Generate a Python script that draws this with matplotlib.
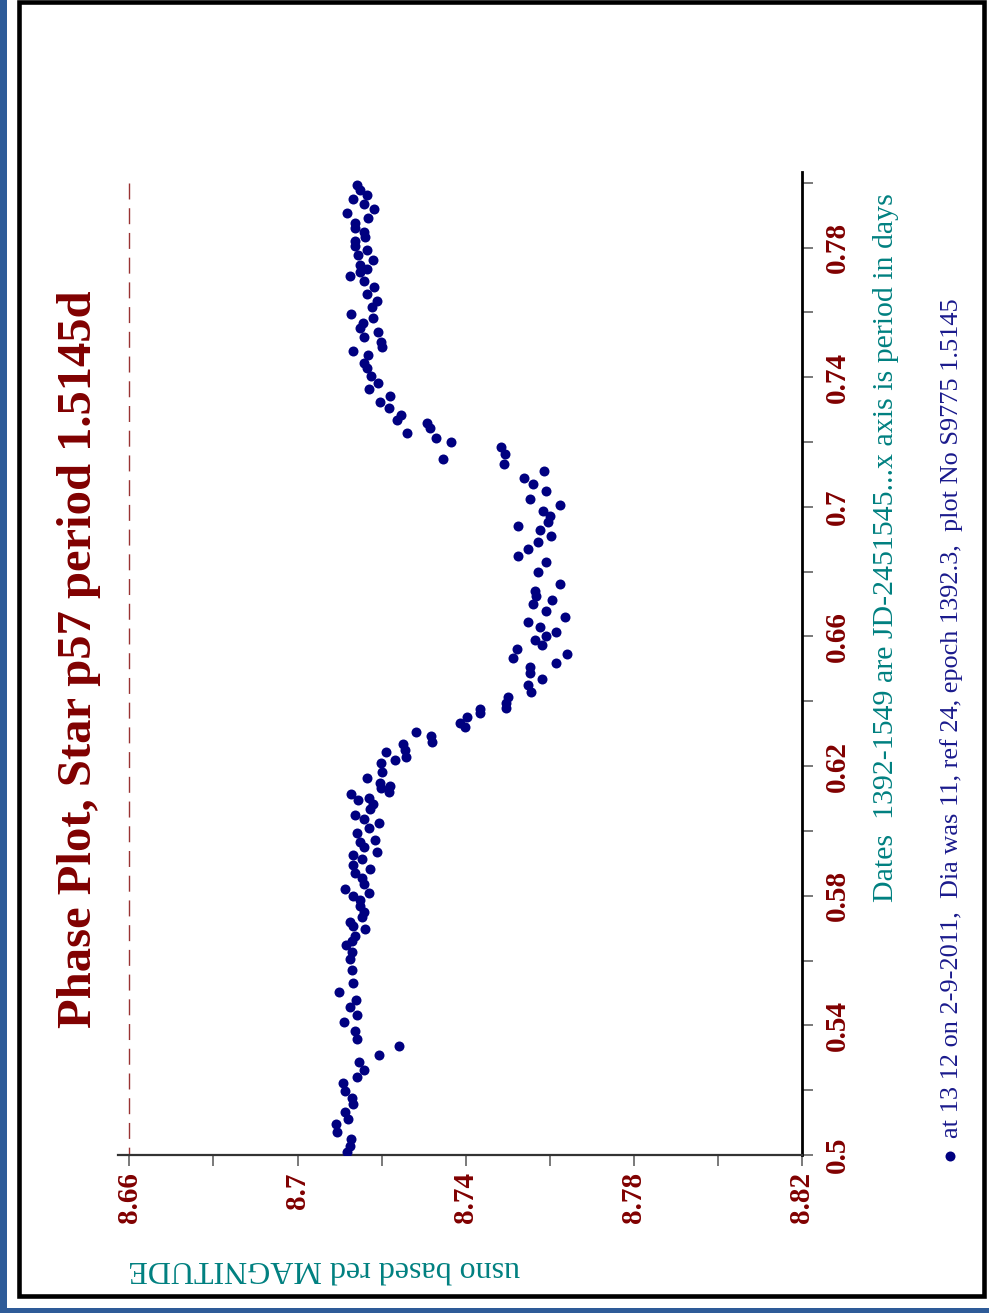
import matplotlib
matplotlib.use('Agg')
import matplotlib.pyplot as plt
from matplotlib.patches import Rectangle
from matplotlib.lines import Line2D

plt.rcParams['font.family'] = ['Liberation Serif', 'DejaVu Serif']

# ---------------- data ----------------
phase = [
    0.7993, 0.7977, 0.7962, 0.7949, 0.7933, 0.7919, 0.7906, 0.7890, 0.7875, 0.7859,
    0.7849, 0.7833, 0.7821, 0.7805, 0.7792, 0.7777, 0.7761, 0.7746, 0.7734, 0.7725,
    0.7712, 0.7698, 0.7677, 0.7657, 0.7636, 0.7616, 0.7595, 0.7583, 0.7566, 0.7551,
    0.7525, 0.7538, 0.7509, 0.7494, 0.7482, 0.7468, 0.7443, 0.7427, 0.7405, 0.7383,
    0.7363, 0.7342, 0.7324, 0.7304, 0.7283, 0.7268,
    0.7227, 0.7258, 0.7242, 0.7211, 0.7199, 0.7147,
    0.7184, 0.7162, 0.7132, 0.7111, 0.7088, 0.7069, 0.7049, 0.7025, 0.7006, 0.6987,
    0.6972, 0.6954, 0.6942, 0.6928, 0.6911, 0.6891, 0.6869, 0.6849, 0.6829, 0.6798,
    0.6762, 0.6740, 0.6726, 0.6712, 0.6699, 0.6679, 0.6659, 0.6645, 0.6630, 0.6615,
    0.6601, 0.6589, 0.6574, 0.6560, 0.6533, 0.6546, 0.6519, 0.6505, 0.6486, 0.6469,
    0.6450, 0.6428, 0.6412, 0.6394, 0.6378, 0.6375,
    0.6365, 0.6351, 0.6334, 0.6320, 0.6306, 0.6293, 0.6275, 0.6267, 0.6250, 0.6229,
    0.6242, 0.6219, 0.6209, 0.6183, 0.6162, 0.6147, 0.6139, 0.6121, 0.6131, 0.6113,
    0.6095, 0.6102, 0.6083, 0.6067, 0.6049, 0.6036, 0.6025, 0.6008, 0.5994, 0.5972,
    0.5967, 0.5951, 0.5936, 0.5926, 0.5912, 0.5895, 0.5882, 0.5869, 0.5854, 0.5835,
    0.5821, 0.5800, 0.5809, 0.5787, 0.5769, 0.5749, 0.5733, 0.5720, 0.5707, 0.5696,
    0.5676, 0.5661, 0.5648, 0.5625, 0.5605, 0.5571, 0.5530, 0.5504, 0.5478, 0.5456,
    0.5432, 0.5409, 0.5384, 0.5358, 0.5336, 0.5309, 0.5286, 0.5262, 0.5242, 0.5223,
    0.5198, 0.5177, 0.5156, 0.5132, 0.5111, 0.5095, 0.5070, 0.5049, 0.5029, 0.5010,
]
magnitude = [
    8.7141, 8.7149, 8.7165, 8.7131, 8.7157, 8.7181, 8.7118, 8.7168, 8.7137, 8.7137,
    8.7157, 8.7160, 8.7136, 8.7136, 8.7165, 8.7145, 8.7180, 8.7149, 8.7165, 8.7149,
    8.7124, 8.7157, 8.7183, 8.7165, 8.7189, 8.7177, 8.7128, 8.7179, 8.7156, 8.7148,
    8.7157, 8.7191, 8.7199, 8.7201, 8.7133, 8.7168, 8.7157, 8.7165, 8.7175, 8.7191,
    8.7169, 8.7219, 8.7197, 8.7217, 8.7245, 8.7237,
    8.7260, 8.7308, 8.7316, 8.7330, 8.7366, 8.7345,
    8.7485, 8.7493, 8.7490, 8.7587, 8.7538, 8.7559, 8.7590, 8.7554, 8.7625, 8.7584,
    8.7600, 8.7595, 8.7525, 8.7576, 8.7602, 8.7571, 8.7548, 8.7524, 8.7590, 8.7571,
    8.7625, 8.7564, 8.7568, 8.7606, 8.7560, 8.7590, 8.7637, 8.7549, 8.7576, 8.7615,
    8.7592, 8.7566, 8.7582, 8.7522, 8.7512, 8.7641, 8.7614, 8.7552, 8.7552, 8.7582,
    8.7549, 8.7556, 8.7501, 8.7496, 8.7495, 8.7433,
    8.7433, 8.7403, 8.7387, 8.7399, 8.7282, 8.7318, 8.7320, 8.7252, 8.7256, 8.7259,
    8.7211, 8.7233, 8.7199, 8.7201, 8.7165, 8.7197, 8.7221, 8.7217, 8.7199, 8.7128,
    8.7145, 8.7171, 8.7180, 8.7173, 8.7136, 8.7157, 8.7193, 8.7169, 8.7141, 8.7185,
    8.7148, 8.7157, 8.7190, 8.7133, 8.7153, 8.7133, 8.7173, 8.7136, 8.7153, 8.7157,
    8.7114, 8.7133, 8.7171, 8.7148, 8.7148, 8.7157, 8.7153, 8.7125, 8.7133, 8.7160,
    8.7136, 8.7130, 8.7115, 8.7130, 8.7125, 8.7130, 8.7133, 8.7098, 8.7140, 8.7124,
    8.7141, 8.7111, 8.7136, 8.7141, 8.7242, 8.7193, 8.7147, 8.7157, 8.7141, 8.7108,
    8.7112, 8.7130, 8.7133, 8.7114, 8.7121, 8.7091, 8.7095, 8.7127, 8.7125, 8.7118,
]

mag_major = [8.66, 8.70, 8.74, 8.78, 8.82]
mag_minor = [8.68, 8.72, 8.76, 8.80]
phase_major = [0.50, 0.54, 0.58, 0.62, 0.66, 0.70, 0.74, 0.78]
phase_minor = [0.52, 0.56, 0.60, 0.64, 0.68, 0.72, 0.76, 0.80]
ref_mag = 8.66
phase_range = (0.80, 0.50)

title = "Phase Plot, Star p57 period 1.5145d"
note1 = "Dates  1392-1549 are JD-2451545...x axis is period in days"
note2 = "at 13 12 on 2-9-2011,  Dia was 11, ref 24, epoch 1392.3,  plot No S9775 1.5145"
ylabel = "usno based red MAGNITUDE"

# ---------------- figure ----------------
W, H = 989, 1313
fig = plt.figure(figsize=(W / 100, H / 100), dpi=100, facecolor='white')

def fx(px):
    return px / W

def fy(py):
    return 1 - py / H

DARKRED = '#800000'
NAVY = '#000080'
TEAL = '#008080'

ax = fig.add_axes([fx(118), fy(1155), fx(802) - fx(118), fy(172) - fy(1155)])
ax.set_facecolor('white')

ax.plot([ref_mag, ref_mag], list(phase_range), color='#993333', lw=1.0,
        linestyle=(0, (11.5, 6.3)), zorder=1)
ax.plot(magnitude, phase, linestyle='none', marker='o', ms=7.2,
        color=NAVY, mec='none', zorder=3)

ax.set_xlim(8.6573, 8.82)
ax.set_ylim(0.50, 0.8033)

for s in ('top', 'left'):
    ax.spines[s].set_visible(False)
ax.spines['right'].set_linewidth(2.0)
ax.spines['right'].set_color('black')
ax.spines['bottom'].set_linewidth(1.6)
ax.spines['bottom'].set_color('#333333')

ax.yaxis.tick_right()
ax.xaxis.tick_bottom()

lab_kw = dict(fontsize=21, fontweight='bold', color=DARKRED)
ax.set_xticks(mag_major, labels=[f"{v:g}" for v in mag_major], **lab_kw)
ax.set_xticks(mag_minor, minor=True)
ax.set_yticks(phase_major, labels=[f"{v:g}" for v in phase_major], **lab_kw)
ax.set_yticks(phase_minor, minor=True)

ax.tick_params(axis='both', which='both', direction='out', length=8,
               width=1.1, color='#555555')
ax.tick_params(axis='x', which='major', pad=4.3, labelrotation=90)
ax.tick_params(axis='y', which='major', pad=8.0, labelrotation=90)
for lbl in ax.get_yticklabels():
    lbl.set_va('center')
    lbl.set_ha('left')

# ---------------- texts ----------------
fig.text(fx(91), fy(659.5), title, rotation=90, rotation_mode='anchor',
         ha='center', va='baseline', fontsize=35, fontweight='bold', color=DARKRED)
fig.text(fx(892.7), fy(901.7), note1, rotation=90, rotation_mode='anchor',
         ha='left', va='baseline', fontsize=21.5, color=TEAL)
fig.text(fx(958.3), fy(1138), note2, rotation=90, rotation_mode='anchor',
         ha='left', va='baseline', fontsize=18.9, color='#1a1a8c')
fig.add_artist(Line2D([fx(950)], [fy(1156)], marker='o', ms=7.2, color=NAVY,
                      mec='none', transform=fig.transFigure))
fig.text(fx(324.5), fy(1261), ylabel, rotation=180, rotation_mode='anchor',
         ha='center', va='baseline', fontsize=23, color=TEAL)

# ---------------- frame ----------------
BLUE = '#2e5b98'
fig.add_artist(Rectangle((0, 0), fx(7), 1, transform=fig.transFigure,
                         facecolor=BLUE, edgecolor='none', zorder=-5))
fig.add_artist(Rectangle((0, 0), 1, 1 - 1308 / H, transform=fig.transFigure,
                         facecolor=BLUE, edgecolor='none', zorder=-5))
fig.add_artist(Rectangle((fx(19), fy(1295.5)), fx(983.5) - fx(19), fy(1.5) - fy(1295.5),
                         transform=fig.transFigure, fill=False, edgecolor='black',
                         linewidth=3.3, zorder=5))

fig.savefig('out.png', dpi=100, facecolor='white')
